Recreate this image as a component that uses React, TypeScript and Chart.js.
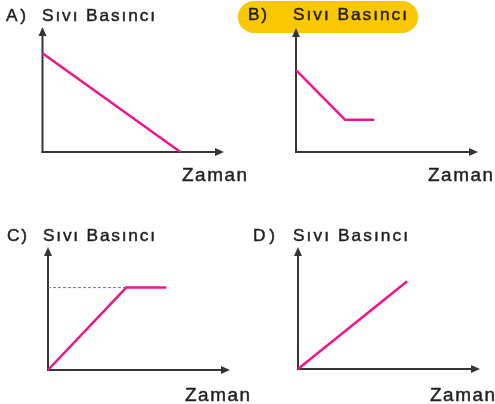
import React, { useEffect, useRef } from "react";
import { Chart, registerables } from "chart.js";

Chart.register(...registerables);

// ---- Data ----
const panelLetters = ["A)", "B)", "C)", "D)"];
const yAxisTitle = "Sıvı Basıncı";
const xAxisTitle = "Zaman";
const axisMax = 10;

const timeA = [0, 7.6];
const pressureA = [7.9, 0];

const timeB = [0, 2.7, 4.3];
const pressureB = [6.6, 2.6, 2.6];

const timeC = [0, 4.3, 6.5];
const pressureC = [0, 6.7, 6.7];
const guideTimeC = [0, 4.3];
const guidePressureC = [6.7, 6.7];

const timeD = [0, 6.0];
const pressureD = [0, 7.2];

// ---- Layout / style ----
const W = 495;
const H = 404;
const MAGENTA = "#F0148C";
const AXIS = "#353535";
const TEXT = "#231f20";
const YELLOW = "#FAC800";
const FONT = '"Liberation Sans", Arial, Helvetica, sans-serif';

type Geo = {
  ox: number; oy: number; tx: number; ty: number;
  letter: { x: number; w: number; b: number };
  title: { x: number; w: number; b: number };
  zaman: { x: number; w: number; b: number };
  pill?: { x: number; y: number; w: number; h: number; r: number };
};

const geos: Geo[] = [
  {
    ox: 42.5, oy: 152, tx: 224, ty: 27,
    letter: { x: 6, w: 20, b: 20.5 },
    title: { x: 42, w: 113, b: 20.5 },
    zaman: { x: 182, w: 65, b: 180.5 },
  },
  {
    ox: 296, oy: 152, tx: 478, ty: 28,
    letter: { x: 248, w: 19, b: 19.5 },
    title: { x: 293, w: 114, b: 19.5 },
    zaman: { x: 428, w: 65, b: 180.5 },
    pill: { x: 238, y: 1, w: 180, h: 32, r: 16 },
  },
  {
    ox: 48, oy: 370, tx: 230, ty: 247,
    letter: { x: 7, w: 20, b: 241 },
    title: { x: 43, w: 112, b: 241 },
    zaman: { x: 185, w: 65, b: 400.5 },
  },
  {
    ox: 298, oy: 369, tx: 480, ty: 247,
    letter: { x: 253, w: 22, b: 240.5 },
    title: { x: 293, w: 115, b: 240.5 },
    zaman: { x: 430, w: 65, b: 400.5 },
  },
];

function pts(xs: number[], ys: number[]) {
  return xs.map((x, i) => ({ x, y: ys[i] }));
}

const panelSeries = [
  [{ data: pts(timeA, pressureA), guide: false }],
  [{ data: pts(timeB, pressureB), guide: false }],
  [
    { data: pts(timeC, pressureC), guide: false },
    { data: pts(guideTimeC, guidePressureC), guide: true },
  ],
  [{ data: pts(timeD, pressureD), guide: false }],
];

function drawStretched(
  ctx: CanvasRenderingContext2D,
  text: string,
  x: number,
  baseline: number,
  px: number,
  targetW: number
) {
  ctx.save();
  ctx.font = `${px}px ${FONT}`;
  ctx.fillStyle = TEXT;
  ctx.strokeStyle = TEXT;
  ctx.lineWidth = 0.45;
  ctx.lineJoin = "round";
  ctx.textBaseline = "alphabetic";
  ctx.textAlign = "left";
  const sx = 1.05;
  const chars = Array.from(text);
  const widths = chars.map((c) => ctx.measureText(c).width);
  const total = widths.reduce((a, b) => a + b, 0);
  const spacing = Math.max(0, (targetW / sx - total) / Math.max(1, chars.length - 1));
  ctx.translate(x, baseline);
  ctx.scale(sx, 1);
  let cx = 0;
  chars.forEach((c, i) => {
    ctx.fillText(c, cx, 0);
    ctx.strokeText(c, cx, 0);
    cx += widths[i] + spacing;
  });
  ctx.restore();
}

function roundRect(ctx: CanvasRenderingContext2D, x: number, y: number, w: number, h: number, r: number) {
  ctx.beginPath();
  ctx.moveTo(x + r, y);
  ctx.lineTo(x + w - r, y);
  ctx.arc(x + w - r, y + r, r, -Math.PI / 2, Math.PI / 2);
  ctx.lineTo(x + r, y + h);
  ctx.arc(x + r, y + r, r, Math.PI / 2, (3 * Math.PI) / 2);
  ctx.closePath();
}

function makePlugin(index: number) {
  const g = geos[index];
  return {
    id: "panelDecor" + index,
    beforeDraw(chart: any) {
      const ctx: CanvasRenderingContext2D = chart.ctx;
      if (g.pill) {
        ctx.save();
        ctx.fillStyle = YELLOW;
        roundRect(ctx, g.pill.x, g.pill.y, g.pill.w, g.pill.h, g.pill.r);
        ctx.fill();
        ctx.restore();
      }
    },
    beforeDatasetsDraw(chart: any) {
      const ctx: CanvasRenderingContext2D = chart.ctx;
      const xs = chart.scales.x;
      const ys = chart.scales.y;
      const x0 = xs.getPixelForValue(0);
      const x1 = xs.getPixelForValue(axisMax);
      const y0 = ys.getPixelForValue(0);
      const y1 = ys.getPixelForValue(axisMax);
      ctx.save();
      ctx.strokeStyle = AXIS;
      ctx.fillStyle = AXIS;
      ctx.lineWidth = 2;
      ctx.lineCap = "butt";
      ctx.beginPath();
      ctx.moveTo(x0, y0 + 1);
      ctx.lineTo(x0, y1 + 6);
      ctx.stroke();
      ctx.beginPath();
      ctx.moveTo(x0 - 1, y0);
      ctx.lineTo(x1 - 6, y0);
      ctx.stroke();
      ctx.beginPath();
      ctx.moveTo(x0, y1);
      ctx.lineTo(x0 - 4, y1 + 9);
      ctx.lineTo(x0 + 4, y1 + 9);
      ctx.closePath();
      ctx.fill();
      ctx.beginPath();
      ctx.moveTo(x1, y0);
      ctx.lineTo(x1 - 9, y0 - 4);
      ctx.lineTo(x1 - 9, y0 + 4);
      ctx.closePath();
      ctx.fill();
      ctx.restore();
    },
    afterDraw(chart: any) {
      const ctx: CanvasRenderingContext2D = chart.ctx;
      drawStretched(ctx, panelLetters[index], g.letter.x, g.letter.b, 16.5, g.letter.w);
      drawStretched(ctx, yAxisTitle, g.title.x, g.title.b, 16.5, g.title.w);
      drawStretched(ctx, xAxisTitle, g.zaman.x, g.zaman.b, 18, g.zaman.w);
    },
  };
}

function Panel({ index }: { index: number }) {
  const ref = useRef<HTMLCanvasElement | null>(null);
  useEffect(() => {
    const canvas = ref.current;
    if (!canvas) return;
    const g = geos[index];
    const datasets = panelSeries[index].map((s) => ({
      data: s.data,
      borderColor: s.guide ? "#7a7a7a" : MAGENTA,
      borderWidth: s.guide ? 1 : 2.5,
      borderDash: s.guide ? [3, 2] : [],
      pointRadius: 0,
      tension: 0,
      fill: false,
      clip: false as any,
      borderCapStyle: "butt" as const,
      borderJoinStyle: "miter" as const,
    }));
    const chart = new Chart(canvas, {
      type: "line",
      data: { datasets },
      options: {
        animation: false,
        responsive: false,
        devicePixelRatio: 1,
        layout: {
          padding: { left: g.ox, right: W - g.tx, top: g.ty, bottom: H - g.oy },
        },
        plugins: { legend: { display: false }, tooltip: { enabled: false } },
        scales: {
          x: { type: "linear", min: 0, max: axisMax, display: false },
          y: { type: "linear", min: 0, max: axisMax, display: false },
        },
        events: [],
      },
      plugins: [makePlugin(index)],
    });
    return () => chart.destroy();
  }, [index]);
  return (
    <canvas
      ref={ref}
      width={W}
      height={H}
      style={{ position: "absolute", left: 0, top: 0, width: W, height: H }}
    />
  );
}

export default function App() {
  return (
    <div
      style={{
        position: "fixed",
        left: 0,
        top: 0,
        width: W,
        height: H,
        background: "#ffffff",
        overflow: "hidden",
      }}
    >
      {[0, 1, 2, 3].map((i) => (
        <Panel key={i} index={i} />
      ))}
    </div>
  );
}
